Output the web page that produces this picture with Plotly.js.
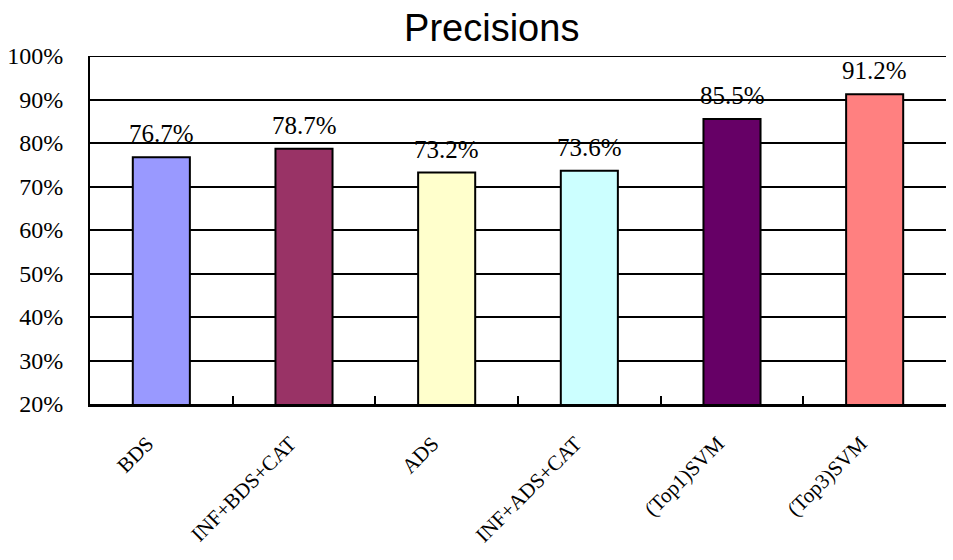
<!DOCTYPE html>
<html>
<head>
<meta charset="utf-8">
<script src="https://cdn.plot.ly/plotly-3.0.1.min.js"></script>
<style>html,body{margin:0;padding:0;background:#fff;}#chart{width:953px;height:560px;}</style>
</head>
<body>
<div id="chart"></div>
<script>
const categories = ["BDS", "INF+BDS+CAT", "ADS", "INF+ADS+CAT", "(Top1)SVM", "(Top3)SVM"];
const precisions = [0.767, 0.787, 0.732, 0.736, 0.855, 0.912];
const barColors = ["#9999FF", "#993366", "#FFFFCC", "#CCFFFF", "#660066", "#FF8080"];
const yTickVals = [0.2, 0.3, 0.4, 0.5, 0.6, 0.7, 0.8, 0.9, 1.0];

const serif = "Liberation Serif, DejaVu Serif, serif";

const trace = {
  type: "bar",
  x: categories,
  y: precisions,
  width: 0.4,
  marker: { color: barColors, line: { color: "#000", width: 2 } },
  hoverinfo: "none"
};

const annotations = categories.map((c, i) => ({
  x: c, y: precisions[i], xref: "x", yref: "y",
  text: (precisions[i] * 100).toFixed(1) + "%",
  showarrow: false, yanchor: "bottom", yshift: 8,
  font: { family: serif, size: 25, color: "#000" }
}));

const layout = {
  width: 953, height: 560,
  margin: { l: 90, r: 7, t: 56, b: 156 },
  paper_bgcolor: "#fff", plot_bgcolor: "#fff",
  showlegend: false,
  title: {
    text: "Precisions",
    font: { family: "Liberation Sans, Arial, sans-serif", size: 38, color: "#000" },
    xref: "container", x: 0.516, xanchor: "center",
    yref: "container", y: 0.95, yanchor: "middle"
  },
  xaxis: {
    type: "category",
    tickson: "boundaries",
    ticks: "inside", ticklen: 8, tickwidth: 2, tickcolor: "#000",
    tickangle: -45,
    ticklabelstandoff: 16,
    ticklabelshift: -14,
    tickfont: { family: serif, size: 21, color: "#000" },
    showline: true, linecolor: "#000", linewidth: 3,
    showgrid: false, zeroline: false
  },
  yaxis: {
    range: [0.2, 1.0],
    tickvals: yTickVals,
    tickformat: ".0%",
    ticks: "",
    ticklabelstandoff: 20,
    tickfont: { family: serif, size: 24, color: "#000" },
    showgrid: true, gridcolor: "#000", gridwidth: 2,
    showline: true, linecolor: "#000", linewidth: 2,
    zeroline: false
  },
  shapes: [{
    type: "line", xref: "paper", yref: "y",
    x0: 0, x1: 1, y0: yTickVals[yTickVals.length - 1], y1: yTickVals[yTickVals.length - 1],
    line: { color: "#000", width: 2 }
  }],
  annotations: annotations
};

Plotly.newPlot("chart", [trace], layout, { staticPlot: true });
</script>
</body>
</html>
